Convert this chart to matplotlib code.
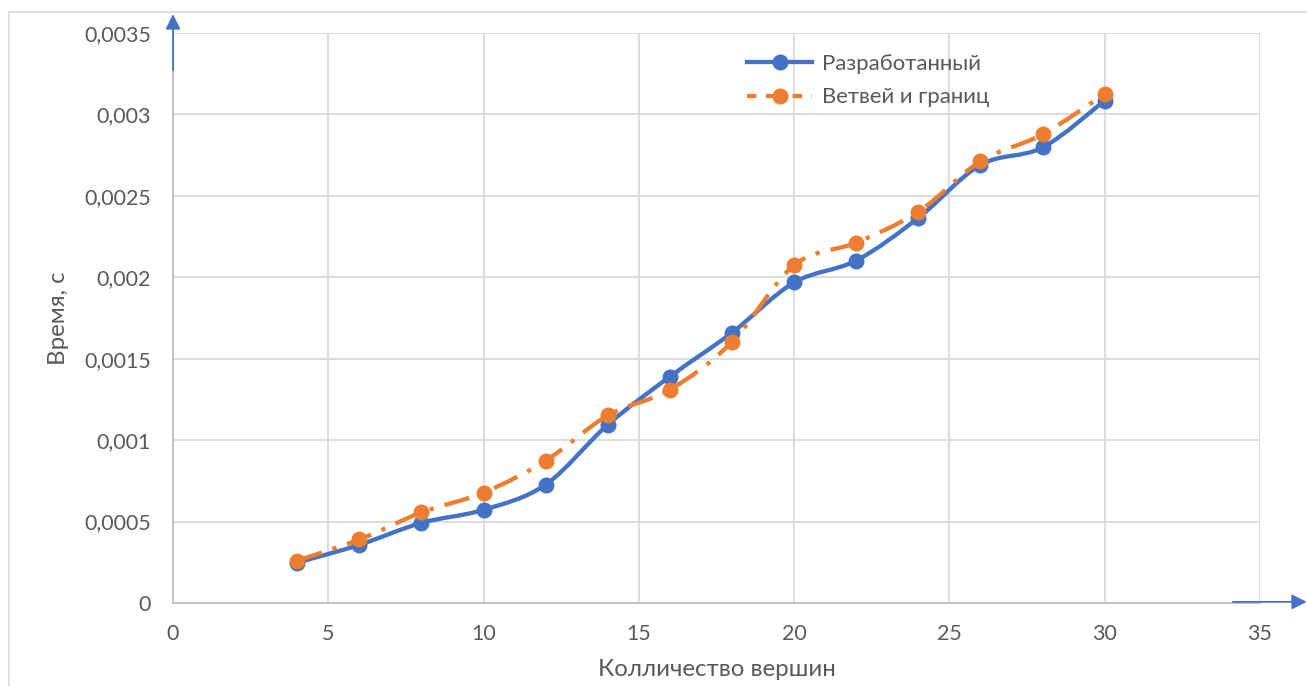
import matplotlib
matplotlib.use("Agg")
import matplotlib.pyplot as plt
from matplotlib.path import Path
from matplotlib.patches import PathPatch, Rectangle
from matplotlib.lines import Line2D
from matplotlib.ticker import FuncFormatter

# количество вершин
vertices = [4, 6, 8, 10, 12, 14, 16, 18, 20, 22, 24, 26, 28, 30]
# время работы, с
t_developed = [0.000248, 0.000357, 0.000492, 0.000572, 0.000727, 0.001095, 0.001390,
               0.001660, 0.001968, 0.002103, 0.002365, 0.002690, 0.002797, 0.003085]
t_branch_bound = [0.000260, 0.000390, 0.000556, 0.000678, 0.000874, 0.001152, 0.001310,
                  0.001603, 0.002075, 0.002213, 0.002403, 0.002712, 0.002878, 0.003127]

x_ticks = [0, 5, 10, 15, 20, 25, 30, 35]
y_ticks = [0, 0.0005, 0.001, 0.0015, 0.002, 0.0025, 0.003, 0.0035]

BLUE = "#4472C4"
ORANGE = "#ED7D31"
GRID = "#D9D9D9"
TXT = "#595959"

plt.rcParams['font.family'] = ['Lato', 'DejaVu Sans']


def smooth_path(xs, ys):
    # сглаженная линия как в Excel: кубические Безье по соседним точкам
    pts = list(zip(xs, ys))
    verts = [pts[0]]
    codes = [Path.MOVETO]
    n = len(pts)
    for i in range(n - 1):
        p0 = pts[i - 1] if i > 0 else pts[i]
        p1 = pts[i]
        p2 = pts[i + 1]
        p3 = pts[i + 2] if i + 2 < n else pts[i + 1]
        c1 = (p1[0] + (p2[0] - p0[0]) / 6, p1[1] + (p2[1] - p0[1]) / 6)
        c2 = (p2[0] - (p3[0] - p1[0]) / 6, p2[1] - (p3[1] - p1[1]) / 6)
        verts += [c1, c2, p2]
        codes += [Path.CURVE4] * 3
    return Path(verts, codes)


fig = plt.figure(figsize=(13.07, 6.86), dpi=100)
ax = fig.add_axes([173 / 1307, 83 / 686, 1087 / 1307, 570 / 686])

# рамка области диаграммы
fig.patches.append(Rectangle((9 / 1307, -0.05), 1.1, 0.05 + 1 - 12 / 686,
                             transform=fig.transFigure, fill=False,
                             edgecolor="#D9D9D9", linewidth=1.2))

dashdot = (0, (6, 2.6, 1, 2.6))

ax.add_patch(PathPatch(smooth_path(vertices, t_developed), fill=False,
                       edgecolor=BLUE, linewidth=3.1, capstyle='round', zorder=3))
ax.plot(vertices, t_developed, 'o', color=BLUE, markersize=10.5, zorder=4)

ax.add_patch(PathPatch(smooth_path(vertices, t_branch_bound), fill=False,
                       edgecolor=ORANGE, linewidth=3.1, linestyle=dashdot,
                       capstyle='butt', zorder=5))
ax.plot(vertices, t_branch_bound, 'o', color=ORANGE, markersize=10.5, zorder=6)

ax.set_xlim(0, 35)
ax.set_ylim(0, 0.0035)
ax.set_xticks(x_ticks)
ax.set_yticks(y_ticks)
ax.yaxis.set_major_formatter(FuncFormatter(lambda v, p: ('%g' % v).replace('.', ',') if v else '0'))
ax.xaxis.set_major_formatter(FuncFormatter(lambda v, p: '%d' % v))
ax.tick_params(length=0, labelsize=15.4, labelcolor=TXT, pad=15)
ax.tick_params(axis='y', pad=16)
ax.grid(True, color=GRID, linewidth=1.3)
ax.set_axisbelow(True)
for s in ['top', 'right']:
    ax.spines[s].set_visible(False)
for s in ['left', 'bottom']:
    ax.spines[s].set_color("#BFBFBF")
    ax.spines[s].set_linewidth(1.3)

ax.set_xlabel('Колличество вершин', fontsize=17.3, color=TXT, labelpad=11)
ax.set_ylabel('Время, с', fontsize=17.3, color=TXT, labelpad=11)

# стрелки осей
ax.annotate('', xy=(0, 1.033), xytext=(0, 0.935), xycoords='axes fraction',
            arrowprops=dict(arrowstyle='-|>,head_length=0.9,head_width=0.45',
                            color=BLUE, lw=1.3, shrinkA=0, shrinkB=0))
ax.annotate('', xy=(1.043, 0.002), xytext=(0.975, 0.002), xycoords='axes fraction',
            arrowprops=dict(arrowstyle='-|>,head_length=0.9,head_width=0.45',
                            color=BLUE, lw=1.3, shrinkA=0, shrinkB=0))

handles = [
    Line2D([], [], color=BLUE, linewidth=3.1, marker='o', markersize=10.5),
    Line2D([], [], color=ORANGE, linewidth=3.1, linestyle=(0, (2.2, 2.2, 4, 2.2)),
           marker='o', markersize=10.5),
]
leg = ax.legend(handles, ['Разработанный', 'Ветвей и границ'], loc='upper left',
                bbox_to_anchor=(0.51, 0.998), frameon=False, fontsize=15.9,
                handlelength=2.95, handletextpad=0.45, labelspacing=0.6)
for t in leg.get_texts():
    t.set_color(TXT)

fig.savefig('out.png', dpi=100)
